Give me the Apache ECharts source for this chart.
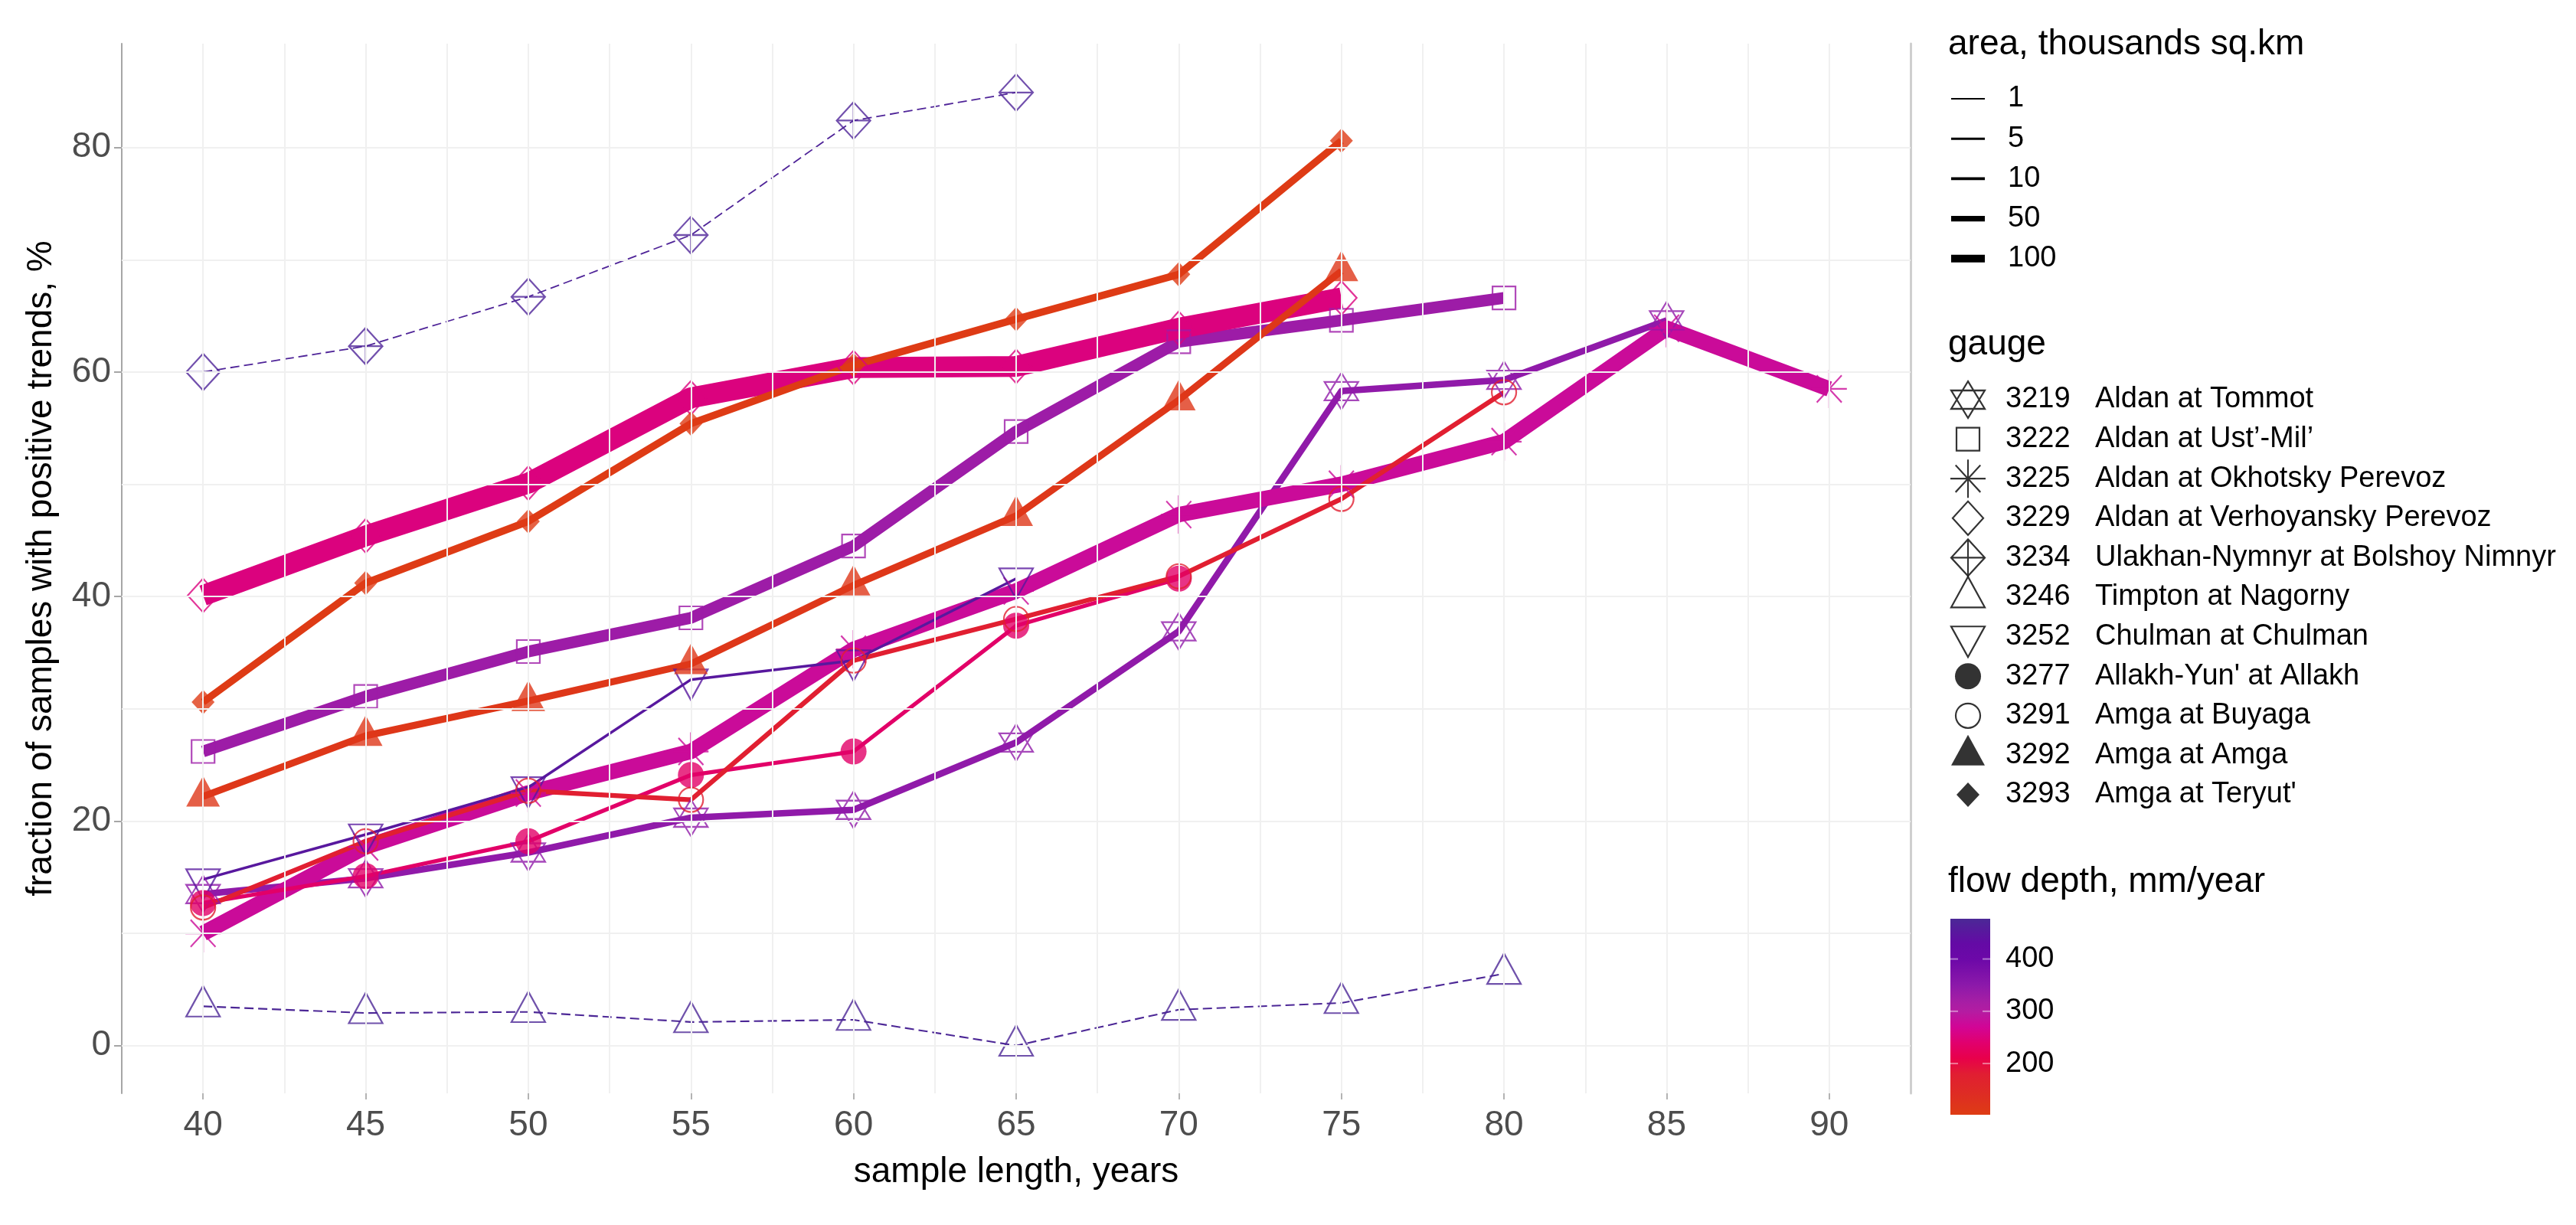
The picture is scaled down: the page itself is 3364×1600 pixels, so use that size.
<!DOCTYPE html>
<html><head><meta charset="utf-8">
<script src="https://cdn.jsdelivr.net/npm/echarts@6/dist/echarts.min.js"></script>
<style>html,body{margin:0;padding:0;background:#fff}#c{width:3364px;height:1600px}</style>
</head><body><div id="c"></div>
<script>
// ---------------- data ----------------
const years = [40, 45, 50, 55, 60, 65, 70, 75, 80, 85, 90];
const gaugeIds = ['3219','3222','3225','3229','3234','3246','3252','3277','3291','3292','3293'];
const gaugeNames = ['Aldan at Tommot', "Aldan at Ust\u2019-Mil\u2019", 'Aldan at Okhotsky Perevoz', 'Aldan at Verhoyansky Perevoz',
  'Ulakhan-Nymnyr at Bolshoy Nimnyr', 'Timpton at Nagorny', 'Chulman at Chulman', "Allakh-Yun' at Allakh",
  'Amga at Buyaga', 'Amga at Amga', "Amga at Teryut'"];
const v3219 = [13.5, 14.9, 17.2, 20.3, 21.0, 27.0, 36.9, 58.3, 59.3, 64.6];
const v3222 = [26.2, 31.1, 35.1, 38.1, 44.5, 54.7, 62.7, 64.6, 66.6];
const v3225 = [10.0, 17.7, 22.5, 26.2, 35.3, 40.5, 47.3, 50.0, 53.8, 63.9, 58.5];
const v3229 = [40.1, 45.4, 50.1, 57.7, 60.4, 60.5, 63.9, 66.6];
const v3234 = [60.0, 62.3, 66.7, 72.2, 82.4, 84.9];
const v3246 = [3.5, 2.9, 3.0, 2.1, 2.3, 0.0, 3.2, 3.8, 6.4];
const v3252 = [14.8, 18.8, 23.0, 32.6, 34.3, 41.6];
const v3277 = [12.7, 15.1, 18.2, 24.1, 26.2, 37.4, 41.6];
const v3291 = [12.3, 18.2, 22.7, 21.9, 34.3, 38.0, 41.8, 48.7, 58.2];
const v3292 = [22.2, 27.6, 30.7, 34.0, 41.0, 47.2, 57.5, 69.0];
const v3293 = [30.6, 41.2, 46.7, 55.4, 60.6, 64.7, 68.7, 80.6];
const gaugeValues = [v3219, v3222, v3225, v3229, v3234, v3246, v3252, v3277, v3291, v3292, v3293];
// catchment area, thousands sq.km (estimated from line widths)
const areaK = [73, 256, 465, 860, 1, 1.8, 8.3, 24, 36, 81, 93];
// flow depth, mm/year (estimated from colours)
const flowDepth = [345, 330, 278, 252, 470, 476, 452, 235, 178, 115, 105];
const areaBreaks = [1, 5, 10, 50, 100];
const flowTicks = [200, 300, 400];
const flowRange = [102, 477];
const xTicks = [40, 45, 50, 55, 60, 65, 70, 75, 80, 85, 90];
const xGridVals = [40, 42.5, 45, 47.5, 50, 52.5, 55, 57.5, 60, 62.5, 65, 67.5, 70, 72.5, 75, 77.5, 80, 82.5, 85, 87.5, 90];
const yTicks = [0, 20, 40, 60, 80];
const yGridVals = [0, 10, 20, 30, 40, 50, 60, 70, 80];

// ---------------- styles ----------------
const FONT = '"Liberation Sans", Arial, sans-serif';
const cbStops = [[102,'#DE3C14'],[140,'#DE2D23'],[180,'#E11E32'],[210,'#E8004B'],[240,'#E1006E'],[270,'#D20596'],
  [300,'#B41CA2'],[320,'#A51EA5'],[350,'#8C19AA'],[400,'#6C08A8'],[430,'#640AA5'],[477,'#4B2896']];
function hex2rgb(h){return [parseInt(h.slice(1,3),16),parseInt(h.slice(3,5),16),parseInt(h.slice(5,7),16)];}
function flowColor(v){
  if (v <= cbStops[0][0]) return cbStops[0][1];
  for (let i = 1; i < cbStops.length; i++) {
    if (v <= cbStops[i][0]) {
      const t = (v - cbStops[i-1][0]) / (cbStops[i][0] - cbStops[i-1][0]);
      const a = hex2rgb(cbStops[i-1][1]), b = hex2rgb(cbStops[i][1]);
      const c = a.map((x, k) => Math.round(x + (b[k] - x) * t));
      return 'rgb(' + c.join(',') + ')';
    }
  }
  return cbStops[cbStops.length-1][1];
}
function areaWidth(a){ return 0.9 * Math.sqrt(a) + 0.9; }
const dashedIds = ['3234', '3246'];
const shapes = {
  '3219': {symbol: 'path://M0,-1L0.866,0.5L-0.866,0.5Z M0,1L0.866,-0.5L-0.866,-0.5Z', size: [44, 48], filled: false, offset: [0, 0]},
  '3222': {symbol: 'rect', size: [30, 30], filled: false, offset: [0, 0]},
  '3225': {symbol: 'path://M0,-1L0,1M-1,0L1,0M-0.707,-0.707L0.707,0.707M-0.707,0.707L0.707,-0.707', size: [46, 50], filled: false, offset: [0, 0]},
  '3229': {symbol: 'diamond', size: [40, 44], filled: false, offset: [0, 0]},
  '3234': {symbol: 'path://M0,-1L1,0L0,1L-1,0Z M0,-1L0,1 M-1,0L1,0', size: [44, 48], filled: false, offset: [0, 0]},
  '3246': {symbol: 'triangle', size: [44, 40], filled: false, offset: [0, -40/6]},
  '3252': {symbol: 'path://M-1,0L1,0L0,1.732Z', size: [44, 40], filled: false, offset: [0, 40/6]},
  '3277': {symbol: 'circle', size: [34, 34], filled: true, offset: [0, 0]},
  '3291': {symbol: 'circle', size: [32, 32], filled: false, offset: [0, 0]},
  '3292': {symbol: 'triangle', size: [44, 40], filled: true, offset: [0, -40/6]},
  '3293': {symbol: 'diamond', size: [30, 32], filled: true, offset: [0, 0]}
};
function markerStyle(id, col){
  const s = shapes[id];
  return s.filled ? {color: col, borderWidth: 0} : {color: 'rgba(0,0,0,0)', borderColor: col, borderWidth: 2.2};
}

// ---------------- series ----------------
const series = [];
// grid lines
series.push({
  type: 'line', xAxisIndex: 0, yAxisIndex: 0, data: [], silent: true, z: 0,
  markLine: {
    silent: true, symbol: 'none', animation: false, label: {show: false},
    lineStyle: {color: '#f0f0f0', width: 2, type: 'solid'},
    emphasis: {disabled: true},
    data: xGridVals.map(v => ({xAxis: v})).concat(yGridVals.map(v => ({yAxis: v})))
  }
});
gaugeIds.forEach((id, i) => {
  const col = flowColor(flowDepth[i]);
  const data = gaugeValues[i].map((v, j) => [years[j], v]);
  series.push({
    type: 'line', name: id, xAxisIndex: 0, yAxisIndex: 0, data: data, silent: true, z: 2,
    showSymbol: false, symbol: 'none',
    lineStyle: {color: col, width: areaWidth(areaK[i]), type: dashedIds.includes(id) ? [12, 6] : 'solid', join: 'round', cap: 'butt'},
    emphasis: {disabled: true}
  });
});
gaugeIds.forEach((id, i) => {
  const col = flowColor(flowDepth[i]);
  const s = shapes[id];
  series.push({
    type: 'scatter', name: id + ' pts', xAxisIndex: 0, yAxisIndex: 0, silent: true, z: 3,
    data: gaugeValues[i].map((v, j) => [years[j], v]),
    symbol: s.symbol, symbolSize: s.size, symbolOffset: s.offset,
    itemStyle: markerStyle(id, col), emphasis: {disabled: true}
  });
});
// gauge legend symbols (own grid)
series.push({
  type: 'scatter', xAxisIndex: 2, yAxisIndex: 3, silent: true, z: 3,
  data: gaugeIds.map((id, i) => {
    const s = shapes[id];
    return {value: [0.5, i], symbol: s.symbol, symbolSize: s.size, symbolOffset: s.offset, itemStyle: markerStyle(id, '#000')};
  }),
  emphasis: {disabled: true}
});
// colour bar
series.push({
  type: 'custom', xAxisIndex: 1, yAxisIndex: 2, silent: true, z: 3,
  data: [[0, flowRange[0]]],
  renderItem: function (params, api) {
    const p0 = api.coord([0, flowRange[0]]);
    const p1 = api.coord([1, flowRange[1]]);
    const span = flowRange[1] - flowRange[0];
    const stops = cbStops.map(s => ({offset: Math.min(1, Math.max(0, (s[0] - flowRange[0]) / span)), color: s[1]}));
    const children = [{
      type: 'rect',
      shape: {x: p0[0], y: p1[1], width: p1[0] - p0[0], height: p0[1] - p1[1]},
      style: {fill: new echarts.graphic.LinearGradient(0, 1, 0, 0, stops)}
    }];
    flowTicks.forEach(t => {
      const y = api.coord([0, t])[1];
      children.push({type: 'line', shape: {x1: p0[0], y1: y, x2: p0[0] + 10, y2: y}, style: {stroke: 'rgba(255,255,255,0.45)', lineWidth: 2}});
      children.push({type: 'line', shape: {x1: p1[0] - 10, y1: y, x2: p1[0], y2: y}, style: {stroke: 'rgba(255,255,255,0.45)', lineWidth: 2}});
    });
    return {type: 'group', children: children};
  }
});

// ---------------- legend text (graphic) ----------------
const graphic = [];
function txt(x, y, text, size, opts){
  return Object.assign({type: 'text', x: x, y: y, silent: true, z: 10,
    style: {text: text, fontSize: size, fontFamily: FONT, fill: '#000', align: 'left', verticalAlign: 'middle'}}, opts || {});
}
graphic.push(txt(2544, 58, 'area, thousands sq.km', 46));
areaBreaks.forEach((a, i) => {
  const y = 129 + i * 52.2;
  graphic.push({type: 'line', silent: true, z: 10, shape: {x1: 2548, y1: y, x2: 2592, y2: y}, style: {stroke: '#000', lineWidth: areaWidth(a)}});
  graphic.push(txt(2622, y, String(a), 38));
});
graphic.push(txt(2544, 450, 'gauge', 46));
gaugeIds.forEach((id, i) => {
  const y = 522 + i * 51.6;
  graphic.push(txt(2619, y, id, 38));
  graphic.push(txt(2736, y, gaugeNames[i], 38));
});
graphic.push(txt(2544, 1152, 'flow depth, mm/year', 46));

// ---------------- option ----------------
const option = {
  backgroundColor: '#fff',
  animation: false,
  grid: [
    {left: 159, right: 869, top: 57, bottom: 172, containLabel: false},
    {left: 2547, top: 1200, width: 52, height: 256},
    {left: 2545, top: 522 - 0.5 * 51.6, width: 50, height: 11 * 51.6}
  ],
  xAxis: [
    {
      type: 'value', gridIndex: 0, min: 37.5, max: 92.5,
      axisLine: {show: false, onZero: false},
      axisTick: {show: true, customValues: xTicks, length: 8, lineStyle: {color: '#b3b3b3', width: 2}},
      axisLabel: {customValues: xTicks, fontSize: 46, fontFamily: FONT, color: '#4d4d4d', margin: 19},
      splitLine: {show: false},
      name: 'sample length, years', nameLocation: 'middle', nameGap: 80,
      nameTextStyle: {fontSize: 46, fontFamily: FONT, color: '#000'}
    },
    {type: 'value', gridIndex: 1, min: 0, max: 1, show: false},
    {type: 'value', gridIndex: 2, min: 0, max: 1, show: false}
  ],
  yAxis: [
    {
      type: 'value', gridIndex: 0, min: -4.25, max: 89.25,
      axisLine: {show: true, onZero: false, lineStyle: {color: '#a6a6a6', width: 2}},
      axisTick: {show: true, customValues: yTicks, length: 10, lineStyle: {color: '#a6a6a6', width: 2}},
      axisLabel: {customValues: yTicks, fontSize: 46, fontFamily: FONT, color: '#4d4d4d', margin: 14},
      splitLine: {show: false},
      name: 'fraction of samples with positive trends, %', nameLocation: 'middle', nameGap: 82, nameRotate: 90,
      nameTextStyle: {fontSize: 46, fontFamily: FONT, color: '#000'}
    },
    {
      type: 'value', gridIndex: 0, min: -4.25, max: 89.25, position: 'right',
      axisLine: {show: true, onZero: false, lineStyle: {color: '#cfcfcf', width: 3}},
      axisTick: {show: false}, axisLabel: {show: false}, splitLine: {show: false}
    },
    {
      type: 'value', gridIndex: 1, min: flowRange[0], max: flowRange[1], position: 'right',
      axisLine: {show: false}, axisTick: {show: false}, splitLine: {show: false},
      axisLabel: {customValues: flowTicks, fontSize: 38, fontFamily: FONT, color: '#000', margin: 20}
    },
    {type: 'value', gridIndex: 2, min: -0.5, max: 10.5, inverse: true, show: false}
  ],
  series: series,
  graphic: graphic
};
const chart = echarts.init(document.getElementById('c'));
chart.setOption(option);
</script></body></html>
